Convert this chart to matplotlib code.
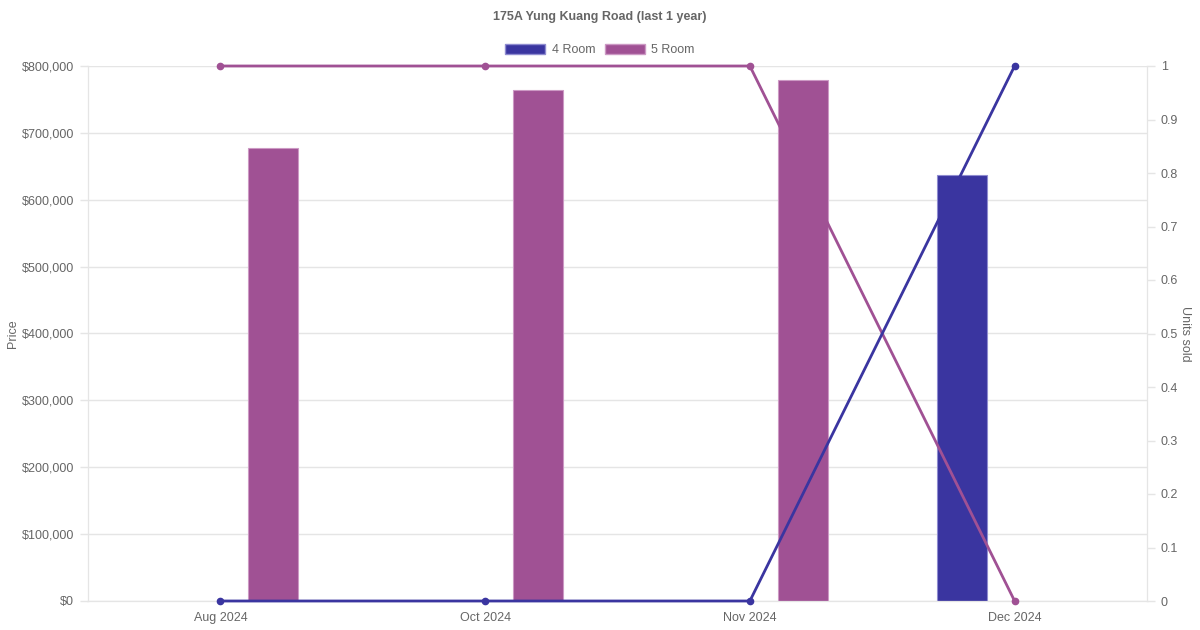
import matplotlib
matplotlib.use("Agg")
import matplotlib.pyplot as plt
import numpy as np
from matplotlib.patches import Patch

plt.rcParams['font.family'] = ['Liberation Sans', 'DejaVu Sans']

categories = ["Aug 2024", "Oct 2024", "Nov 2024", "Dec 2024"]
series = ["4 Room", "5 Room"]
price_4room = [np.nan, np.nan, np.nan, 637000]
price_5room = [677000, 764000, 779000, np.nan]
units_4room = [0, 0, 0, 1]
units_5room = [1, 1, 1, 0]

c4 = "#3a35a0"
c5 = "#a05194"
e4 = "#8f8cd0"
e5 = "#cc99c4"
txt = "#666666"
grid = "#e5e5e5"

fig = plt.figure(figsize=(12, 6.3), dpi=100)
ax = fig.add_axes([88/1200, (630-601)/630, (1147-88)/1200, (601-66)/630])
ax2 = ax.twinx()

x = np.arange(len(categories))
bw = 0.19
off = 0.2
ax.bar(x - off, price_4room, width=bw, color=c4, edgecolor=e4, linewidth=0.8, zorder=2)
ax.bar(x + off, price_5room, width=bw, color=c5, edgecolor=e5, linewidth=0.8, zorder=2)

ax.set_xlim(-0.5, len(categories) - 0.5)
ax.set_ylim(0, 800000)
ax.set_yticks(np.arange(0, 800001, 100000))
ax.set_yticklabels([f"${v:,.0f}" for v in np.arange(0, 800001, 100000)])
ax.set_xticks(x)
ax.set_xticklabels(categories)
ax.grid(axis='y', color=grid, linewidth=1)
ax.set_axisbelow(True)
ax.tick_params(axis='y', colors=grid, labelcolor=txt, labelsize=9, length=6, width=1, pad=4)
ax.tick_params(axis='x', labelcolor=txt, labelsize=9, length=0, pad=8)
ax.spines['top'].set_visible(False)
for s in ['left', 'right', 'bottom']:
    ax.spines[s].set_color(grid)
ax.set_ylabel("Price", color=txt, fontsize=9, labelpad=2)

ax2.set_ylim(0, 1)
ax2.set_yticks(np.round(np.arange(0, 1.01, 0.1), 1))
ax2.set_yticklabels(["0"] + [f"{v:.1f}" for v in np.arange(0.1, 0.95, 0.1)] + ["1"])
ax2.tick_params(axis='y', colors=grid, labelcolor=txt, labelsize=9, length=6, width=1, pad=4)
ax2.spines['top'].set_visible(False)
for s in ['left', 'right', 'bottom']:
    ax2.spines[s].set_color(grid)
ax2.set_ylabel("Units sold", color=txt, fontsize=9, rotation=270, labelpad=9)

ax2.plot(x, units_5room, color=c5, linewidth=2, marker='o', markersize=4.5, clip_on=False, zorder=3)
ax2.plot(x, units_4room, color=c4, linewidth=2, marker='o', markersize=4.5, clip_on=False, zorder=4)

handles = [Patch(facecolor=c4, edgecolor=e4), Patch(facecolor=c5, edgecolor=e5)]
fig.legend(handles, series, loc='center', bbox_to_anchor=(0.5, 1 - 50/630), ncol=2,
           frameon=False, fontsize=9, handlelength=3.2, handleheight=0.9,
           columnspacing=0.8, handletextpad=0.5, labelcolor=txt)
fig.text(0.5, 1 - 17/630, "175A Yung Kuang Road (last 1 year)", ha='center', va='center',
         fontsize=9, fontweight='bold', color=txt)

fig.savefig("out.png", dpi=100, facecolor='white')
